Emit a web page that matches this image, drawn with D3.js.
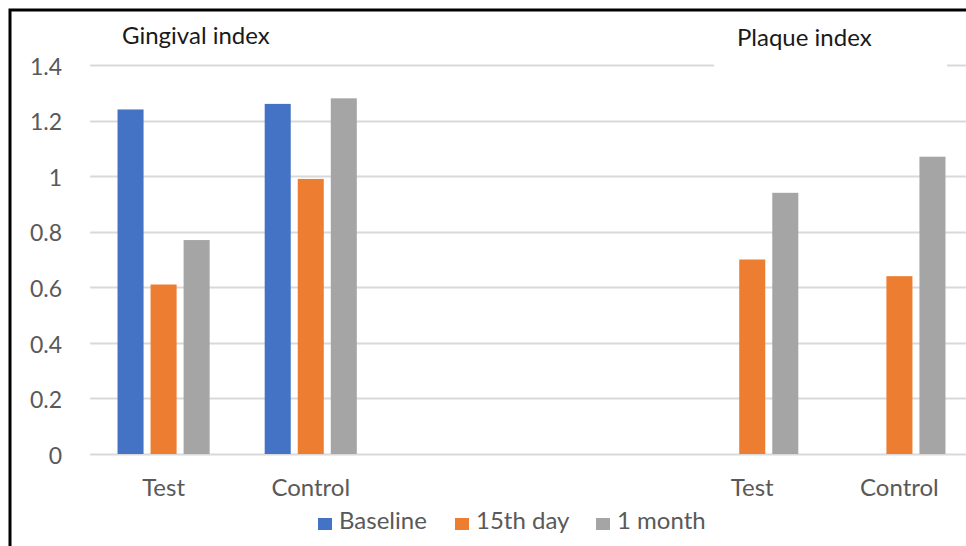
<!DOCTYPE html>
<html><head><meta charset="utf-8">
<script src="https://cdn.jsdelivr.net/npm/d3@7"></script>
<style>body{margin:0;background:#fff}svg{display:block}text{font-family:Lato,"Open Sans",sans-serif}</style>
</head><body><svg id="c" width="966" height="546"></svg>
<script>
const categories = ["Test", "Control", "", " ", "Test ", "Control "];
const seriesNames = ["Baseline", "15th day", "1 month"];
const baseline = [1.24, 1.26, null, null, null, null];
const day15 = [0.61, 0.99, null, null, 0.70, 0.64];
const month1 = [0.77, 1.28, null, null, 0.94, 1.07];
const yTicks = [0, 0.2, 0.4, 0.6, 0.8, 1, 1.2, 1.4];
const colors = ["#4472c4", "#ed7d31", "#a5a5a5"];
const titles = ["Gingival index", "Plaque index"];

const series = [baseline, day15, month1];
const svg = d3.select("#c");
const W = 966, H = 546;
const m = {left: 90, right: -7, top: 65, bottom: 92};
const x = d3.scaleBand().domain(categories).range([m.left, W - m.right]).paddingInner(0).paddingOuter(0);
const y = d3.scaleLinear().domain([0, 1.4]).range([H - m.bottom, m.top]);
const xs = d3.scaleBand().domain(seriesNames).range([0, x.bandwidth()]).paddingInner(0.212).paddingOuter(0.833);

// gridlines
svg.append("g").selectAll("line").data(yTicks).join("line")
  .attr("x1", m.left).attr("x2", W).attr("y1", d => Math.round(y(d)) + 0.5).attr("y2", d => Math.round(y(d)) + 0.5)
  .attr("stroke", "#d9d9d9").attr("stroke-width", 2);

// y labels
const yAxis = svg.append("g").attr("transform", `translate(${m.left - 25},0)`)
  .call(d3.axisLeft(y).tickValues(yTicks).tickSize(0).tickFormat(d => d3.format("")(d)));
yAxis.select(".domain").remove();
yAxis.selectAll("text").attr("fill", "#595959").style("font-size", "23px").attr("font-family", "Lato,'Open Sans',sans-serif").attr("dy", "0.4em");

// bars
series.forEach((s, i) => {
  svg.append("g").selectAll("rect").data(categories.map((c, j) => ({c, v: s[j]})).filter(d => d.v != null)).join("rect")
    .attr("x", d => x(d.c) + xs(seriesNames[i]))
    .attr("width", xs.bandwidth())
    .attr("y", d => y(d.v))
    .attr("height", d => y(0) - y(d.v))
    .attr("fill", colors[i]);
});

// x labels
const xAxis = svg.append("g").attr("transform", `translate(0,${y(0)})`)
  .call(d3.axisBottom(x).tickSize(0));
xAxis.select(".domain").remove();
xAxis.selectAll("text").attr("fill", "#595959").style("font-size", "24px").attr("font-family", "Lato,'Open Sans',sans-serif").attr("y", 42).attr("dy", 0);

// titles
svg.append("rect").attr("x", 714).attr("y", 20).attr("width", 233).attr("height", 47).attr("fill", "#fff");
svg.append("text").attr("x", 122).attr("y", 44).attr("fill", "#1a1a1a").style("font-size", "24px").text(titles[0]);
svg.append("text").attr("x", 737).attr("y", 46).attr("fill", "#1a1a1a").style("font-size", "24px").text(titles[1]);

// legend
const legX = [318, 455, 596];
const leg = svg.append("g");
seriesNames.forEach((n, i) => {
  leg.append("rect").attr("x", legX[i]).attr("y", 518).attr("width", 14).attr("height", 12).attr("fill", colors[i]);
  leg.append("text").attr("x", legX[i] + 21).attr("y", 529).attr("fill", "#595959").style("font-size", "24px").text(n);
});

// border
svg.append("path").attr("d", `M10,${H} L10,10 L${W},10`).attr("fill", "none").attr("stroke", "#000").attr("stroke-width", 3);
</script></body></html>
